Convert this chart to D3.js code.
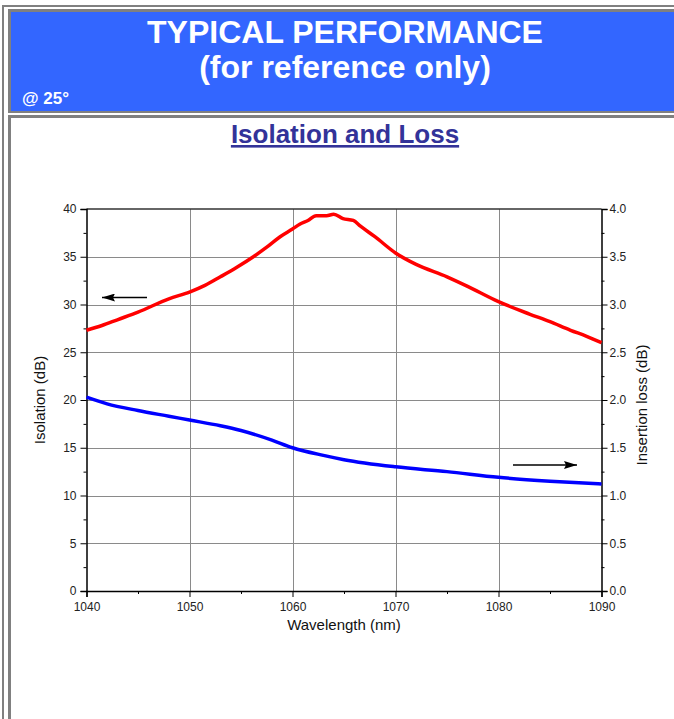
<!DOCTYPE html>
<html>
<head>
<meta charset="utf-8">
<script src="https://cdn.jsdelivr.net/npm/d3@7"></script>
<style>
  body { margin: 0; background: #fff; }
  text { font-family: "Liberation Sans", Arial, sans-serif; }
</style>
</head>
<body>
<div id="chart"></div>
<script>
// data
var isoWave = [1040, 1041.5, 1043, 1045, 1048, 1050, 1051.5, 1053, 1054.6, 1056.2, 1057.5, 1058.8,
  1060, 1060.7, 1061.5, 1062.3, 1063.3, 1064, 1064.9, 1065.9, 1066.6, 1068, 1070, 1072, 1075,
  1077, 1080, 1083, 1085, 1087, 1088.5, 1090];
var isolation = [27.3, 27.8, 28.4, 29.2, 30.6, 31.3, 32.0, 32.9, 33.9, 35.0, 36.0, 37.1,
  37.9, 38.4, 38.8, 39.3, 39.3, 39.45, 39.0, 38.8, 38.2, 37.1, 35.4, 34.2, 32.9,
  31.9, 30.3, 29.0, 28.2, 27.3, 26.7, 26.0];

var lossWave = [1040, 1042, 1045, 1048, 1050, 1053, 1055, 1058, 1060, 1063, 1065, 1070, 1075, 1080, 1085, 1090];
var insLoss = [2.03, 1.96, 1.89, 1.83, 1.79, 1.73, 1.68, 1.58, 1.50, 1.42, 1.375, 1.30, 1.25, 1.19, 1.15, 1.12];

var xTicks = [1040, 1050, 1060, 1070, 1080, 1090];
var yLeftTicks = [0, 5, 10, 15, 20, 25, 30, 35, 40];
var yRightTicks = [0, 0.5, 1.0, 1.5, 2.0, 2.5, 3.0, 3.5, 4.0];

var W = 674, H = 719;
var svg = d3.select("#chart").append("svg")
    .attr("width", W)
    .attr("height", H);

svg.append("rect").attr("width", W).attr("height", H).attr("fill", "#fff");

// page frame (table borders)
var grey = "#808080";
svg.append("rect").attr("x", 2).attr("y", 5).attr("width", W).attr("height", 2).attr("fill", grey);
svg.append("rect").attr("x", 2).attr("y", 5).attr("width", 2).attr("height", H).attr("fill", grey);
svg.append("rect").attr("x", 8).attr("y", 9).attr("width", W).attr("height", 3).attr("fill", grey);
svg.append("rect").attr("x", 8).attr("y", 9).attr("width", 3).attr("height", 104).attr("fill", grey);
svg.append("rect").attr("x", 8).attr("y", 111).attr("width", W).attr("height", 2).attr("fill", grey);
svg.append("rect").attr("x", 11).attr("y", 12).attr("width", W).attr("height", 99).attr("fill", "#3366ff");
svg.append("rect").attr("x", 8).attr("y", 115).attr("width", W).attr("height", 3).attr("fill", grey);
svg.append("rect").attr("x", 8).attr("y", 115).attr("width", 3).attr("height", H).attr("fill", grey);

// header texts
svg.append("text").attr("x", 345).attr("y", 43).attr("text-anchor", "middle")
    .attr("fill", "#fff").style("font-size", "32px").style("font-weight", "bold")
    .text("TYPICAL PERFORMANCE");
svg.append("text").attr("x", 345).attr("y", 78).attr("text-anchor", "middle")
    .attr("fill", "#fff").style("font-size", "32px").style("font-weight", "bold")
    .text("(for reference only)");
svg.append("text").attr("x", 22).attr("y", 104)
    .attr("fill", "#fff").style("font-size", "17px").style("font-weight", "bold")
    .text("@ 25°");

// chart title
svg.append("text").attr("x", 345).attr("y", 143).attr("text-anchor", "middle")
    .attr("fill", "#333399").style("font-size", "26px").style("font-weight", "bold")
    .style("text-decoration", "underline")
    .text("Isolation and Loss");

// plot box
var pLeft = 86.5, pRight = 601.5, pTop = 209, pBottom = 591;

var x = d3.scaleLinear().domain([1040, 1090]).range([pLeft, pRight]);
var yL = d3.scaleLinear().domain([0, 40]).range([pBottom, pTop]);
var yR = d3.scaleLinear().domain([0, 4]).range([pBottom, pTop]);

// grid
var grid = svg.append("g").attr("stroke", "#8a8a8a").attr("stroke-width", 1);
grid.selectAll(".gx").data(xTicks.slice(1, -1)).enter().append("line")
    .attr("x1", function(d) { return Math.round(x(d)) + 0.5; })
    .attr("x2", function(d) { return Math.round(x(d)) + 0.5; })
    .attr("y1", pTop).attr("y2", pBottom);
grid.selectAll(".gy").data(yLeftTicks.slice(1, -1)).enter().append("line")
    .attr("y1", function(d) { return Math.round(yL(d)) + 0.5; })
    .attr("y2", function(d) { return Math.round(yL(d)) + 0.5; })
    .attr("x1", pLeft).attr("x2", pRight);
svg.append("line").attr("x1", pLeft).attr("x2", pRight).attr("y1", pTop).attr("y2", pTop)
    .attr("stroke", "#333").attr("stroke-width", 1.5);

function styleAxis(g) {
  g.selectAll("path").attr("stroke", "#000").attr("stroke-width", 1.5);
  g.selectAll("line").attr("stroke", "#000");
  g.selectAll("text").style("font-size", "12px").style("font-family", "'Liberation Sans', Arial, sans-serif")
    .attr("fill", "#222");
}

// minor ticks
function minor(axis, scale, vals, tr) {
  svg.append("g").attr("transform", tr)
    .call(axis(scale).tickValues(vals).tickSize(3).tickFormat(""))
    .call(function(g) { g.select("path").remove(); g.selectAll("line").attr("stroke", "#000"); });
}
minor(d3.axisBottom, x, [1045, 1055, 1065, 1075, 1085], "translate(0," + pBottom + ")");
minor(d3.axisLeft, yL, [2.5, 7.5, 12.5, 17.5, 22.5, 27.5, 32.5, 37.5], "translate(" + pLeft + ",0)");
minor(d3.axisRight, yR, [0.25, 0.75, 1.25, 1.75, 2.25, 2.75, 3.25, 3.75], "translate(" + pRight + ",0)");

svg.append("g").attr("transform", "translate(0," + pBottom + ")")
    .call(d3.axisBottom(x).tickValues(xTicks).tickSize(6).tickPadding(5).tickFormat(d3.format("d")))
    .call(styleAxis);
svg.append("g").attr("transform", "translate(" + pLeft + ",0)")
    .call(d3.axisLeft(yL).tickValues(yLeftTicks).tickSize(6).tickPadding(4).tickFormat(d3.format("d")))
    .call(styleAxis);
svg.append("g").attr("transform", "translate(" + pRight + ",0)")
    .call(d3.axisRight(yR).tickValues(yRightTicks).tickSize(6).tickPadding(2).tickFormat(d3.format(".1f")))
    .call(styleAxis);

// axis titles
svg.append("text").attr("x", 344).attr("y", 630).attr("text-anchor", "middle")
    .style("font-size", "15px").attr("fill", "#111").text("Wavelength (nm)");
svg.append("text").attr("transform", "translate(45,400) rotate(-90)").attr("text-anchor", "middle")
    .style("font-size", "15px").attr("fill", "#111").text("Isolation (dB)");
svg.append("text").attr("transform", "translate(647,405) rotate(-90)").attr("text-anchor", "middle")
    .style("font-size", "15px").attr("fill", "#111").text("Insertion loss (dB)");

// curves
var isoData = isoWave.map(function(w, i) { return [w, isolation[i]]; });
var lossData = lossWave.map(function(w, i) { return [w, insLoss[i]]; });

svg.append("path").datum(lossData)
    .attr("fill", "none").attr("stroke", "#0000ff").attr("stroke-width", 3.5)
    .attr("d", d3.line().curve(d3.curveMonotoneX)
      .x(function(d) { return x(d[0]); }).y(function(d) { return yR(d[1]); }));
svg.append("path").datum(isoData)
    .attr("fill", "none").attr("stroke", "#ff0000").attr("stroke-width", 3.5)
    .attr("d", d3.line().curve(d3.curveMonotoneX)
      .x(function(d) { return x(d[0]); }).y(function(d) { return yL(d[1]); }));

// arrows pointing at the axis of each curve
svg.append("defs").append("marker")
    .attr("id", "head").attr("viewBox", "0 0 13 8").attr("refX", 13).attr("refY", 4)
    .attr("markerWidth", 13).attr("markerHeight", 8).attr("markerUnits", "userSpaceOnUse")
    .attr("orient", "auto")
  .append("path").attr("d", "M0,0 L13,4 L0,8 L2,4 Z").attr("fill", "#000");
svg.append("line").attr("x1", 147).attr("y1", 297.5).attr("x2", 102).attr("y2", 297.5)
    .attr("stroke", "#000").attr("stroke-width", 1.5).attr("marker-end", "url(#head)");
svg.append("line").attr("x1", 513).attr("y1", 465).attr("x2", 577).attr("y2", 465)
    .attr("stroke", "#000").attr("stroke-width", 1.5).attr("marker-end", "url(#head)");
</script>
</body>
</html>
